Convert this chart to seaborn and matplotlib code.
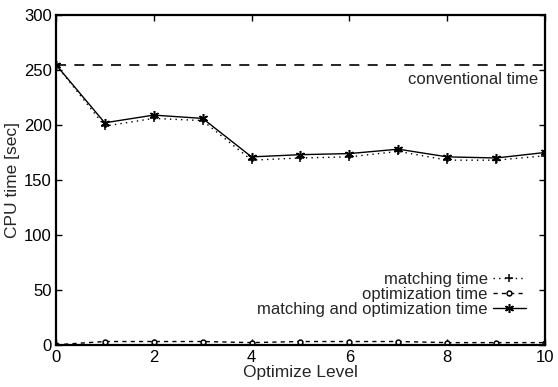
import numpy as np
import pandas as pd
import matplotlib
matplotlib.use("Agg")
import matplotlib.pyplot as plt
import seaborn as sns

# data
levels = list(range(11))
matching_time = [255, 199, 206, 204, 168, 170, 171, 176, 168, 168, 172]
optimization_time = [0, 3, 3, 3, 2, 3, 3, 3, 2, 2, 2]
total_time = [255, 202, 209, 206, 171, 173, 174, 178, 171, 170, 175]
conventional_time = 255

x_ticks = [0, 2, 4, 6, 8, 10]
y_ticks = [0, 50, 100, 150, 200, 250, 300]

df = pd.DataFrame({
    "level": levels,
    "matching": matching_time,
    "optimization": optimization_time,
    "total": total_time,
})

sns.set_style("ticks")
plt.rcParams["font.family"] = ["Liberation Sans", "DejaVu Sans"]

fig = plt.figure(figsize=(5.58, 3.87), dpi=100)
ax = fig.add_axes([0.100, 0.109, 0.877, 0.852])

# (column, label, linestyle, marker, markersize, filled)
series = [
    ("matching", "matching time", (0, (1, 3)), "+", 5.5, True),
    ("optimization", "optimization time", (0, (3, 3)), "o", 3.5, False),
    ("total", "matching and optimization time", "-", (6, 2, 0), 6.5, True),
]

handles = []
for col, label, ls, mk, ms, filled in series:
    sns.lineplot(data=df, x="level", y=col, ax=ax, color="black", label=label)
    ln = ax.lines[-1]
    ln.set_linestyle(ls)
    ln.set_linewidth(1.0)
    ln.set_marker(mk)
    ln.set_markersize(ms)
    ln.set_markeredgecolor("black")
    ln.set_markeredgewidth(1.1)
    ln.set_markerfacecolor("black" if filled else "white")
    handles.append(ln)

ax.axhline(conventional_time, color="black", lw=1.2, linestyle=(0, (6, 5)))
ax.text(9.85, conventional_time - 7, "conventional time", ha="right", va="top",
        fontsize=12)

ax.set_xlim(0, 10)
ax.set_ylim(0, 300)
ax.set_xticks(x_ticks)
ax.set_yticks(y_ticks)
ax.tick_params(direction="in", top=True, right=True, length=4, width=1.0,
               labelsize=12, colors="black")
ax.tick_params(axis="x", pad=4)
ax.tick_params(axis="y", pad=3)
for side in ax.spines.values():
    side.set_linewidth(1.6)
    side.set_color("black")

ax.set_xlabel("Optimize Level", fontsize=12.5, labelpad=0)
ax.set_ylabel("CPU time [sec]", fontsize=12.5, labelpad=3)

ax.legend(handles=handles, labels=[s[1] for s in series], loc="lower right",
          markerfirst=False, frameon=False, fontsize=12,
          handlelength=2.0, handletextpad=0.3, labelspacing=0.0,
          borderaxespad=0.3, bbox_to_anchor=(0.985, 0.05))

fig.savefig("out.png", dpi=100)
